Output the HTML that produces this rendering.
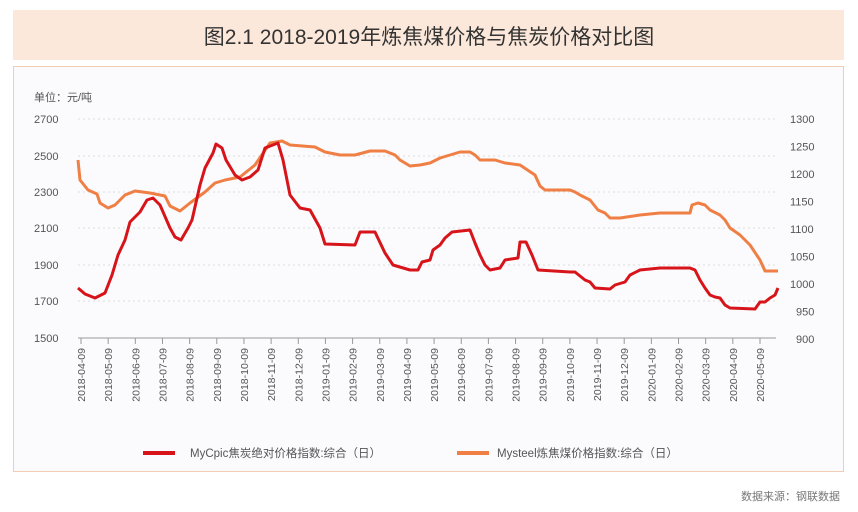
<!DOCTYPE html>
<html><head><meta charset="utf-8"><style>
body{margin:0;width:858px;height:512px;background:#fff;overflow:hidden;font-family:"Liberation Sans","Noto Sans CJK SC",sans-serif}
</style></head><body>
<svg width="858" height="512" xmlns="http://www.w3.org/2000/svg" style="position:absolute;left:0;top:0">
<rect x="0" y="0" width="858" height="512" fill="#fff"/>
<rect x="13" y="10" width="831" height="50" fill="#fce8da"/>
<text x="429" y="44" text-anchor="middle" font-size="21" fill="#333" font-family="Liberation Sans,Noto Sans CJK SC,sans-serif">图2.1 2018-2019年炼焦煤价格与焦炭价格对比图</text>
<rect x="13.5" y="66.5" width="830" height="405" fill="#fbfbfd" stroke="#f2cdb5"/>
<text x="34" y="101" font-size="11" fill="#555">单位：元/吨</text>
<g stroke="#ddd" stroke-dasharray="2,3">
<line x1="78" x2="776" y1="119" y2="119"/><line x1="78" x2="776" y1="156" y2="156"/><line x1="78" x2="776" y1="192" y2="192"/><line x1="78" x2="776" y1="228" y2="228"/><line x1="78" x2="776" y1="265" y2="265"/><line x1="78" x2="776" y1="301" y2="301"/>
</g>
<line x1="78" x2="776" y1="338" y2="338" stroke="#999"/>
<g font-size="11" fill="#555">
<text x="34" y="123">2700</text><text x="34" y="160">2500</text><text x="34" y="196">2300</text><text x="34" y="232">2100</text><text x="34" y="269">1900</text><text x="34" y="305">1700</text><text x="34" y="342">1500</text>
<text x="790" y="123">1300</text><text x="790" y="150.5">1250</text><text x="790" y="178">1200</text><text x="790" y="205.5">1150</text><text x="790" y="233">1100</text><text x="790" y="260.5">1050</text><text x="790" y="288">1000</text><text x="796" y="315.5">950</text><text x="796" y="343">900</text>
</g>
<g id="ticks" stroke="#999"></g>
<g id="labs" font-size="10.5" fill="#555"></g>
<polyline fill="none" stroke="#ef7f44" stroke-width="3" stroke-linejoin="round" points="78,160 80,180 88,190 97,194 100,203 108,208 115,205 125,195 135,191 150,193 165,196 170,206 180,211 190,203 205,192 215,183 225,180 240,177 255,165 270,143 282,141 290,145 315,147 325,152 340,155 355,155 370,151 385,151 395,155 400,160 410,166 420,165 430,163 440,158 450,155 460,152 470,152 475,155 480,160 495,160 505,163 520,165 535,175 540,186 545,190 570,190 575,192 580,195 590,200 598,210 605,213 610,218 620,218 640,215 660,213 690,213 692,205 698,203 705,205 710,210 720,215 725,220 730,228 740,235 750,245 760,260 765,271 778,271"/>
<polyline fill="none" stroke="#d7141a" stroke-width="3" stroke-linejoin="round" points="78,288 85,294 95,298 105,293 112,275 118,255 125,240 130,222 140,212 147,200 153,198 160,205 170,228 175,237 181,240 188,228 192,220 200,185 205,168 213,153 216,144 222,148 226,160 235,175 242,180 250,177 258,170 265,148 278,143 283,160 290,195 300,208 310,210 320,228 325,244 355,245 360,232 375,232 385,253 393,265 410,270 418,270 422,262 430,260 433,250 440,245 445,238 452,232 470,230 475,243 480,255 485,265 490,270 500,268 505,260 518,258 520,242 526,242 532,255 538,270 570,272 575,272 580,276 585,280 590,282 595,288 610,289 615,285 625,282 630,275 640,270 660,268 690,268 695,270 700,280 705,288 710,295 715,297 720,298 725,305 730,308 755,309 760,302 765,302 770,298 775,295 778,288"/>
<line x1="143" x2="175" y1="453" y2="453" stroke="#d7141a" stroke-width="4"/>
<text x="190" y="457" font-size="11.5" fill="#555">MyCpic焦炭绝对价格指数:综合（日）</text>
<line x1="457" x2="489" y1="453" y2="453" stroke="#ef7f44" stroke-width="4"/>
<text x="497" y="457" font-size="11.5" fill="#555">Mysteel炼焦煤价格指数:综合（日）</text>
<text x="840" y="500" text-anchor="end" font-size="11" fill="#777">数据来源：钢联数据</text>
</svg>
<script>
var m=["2018-04","2018-05","2018-06","2018-07","2018-08","2018-09","2018-10","2018-11","2018-12","2019-01","2019-02","2019-03","2019-04","2019-05","2019-06","2019-07","2019-08","2019-09","2019-10","2019-11","2019-12","2020-01","2020-02","2020-03","2020-04","2020-05"];
var t=document.getElementById('ticks'),l=document.getElementById('labs'),ns="http://www.w3.org/2000/svg";
for(var i=0;i<26;i++){var x=81+i*27.16;var ln=document.createElementNS(ns,'line');ln.setAttribute('x1',x);ln.setAttribute('x2',x);ln.setAttribute('y1',338);ln.setAttribute('y2',344);t.appendChild(ln);
var tx=document.createElementNS(ns,'text');tx.setAttribute('transform','translate('+(x+4)+',348) rotate(-90)');tx.setAttribute('text-anchor','end');tx.textContent=m[i]+"-09";l.appendChild(tx);}
</script>
</body></html>
